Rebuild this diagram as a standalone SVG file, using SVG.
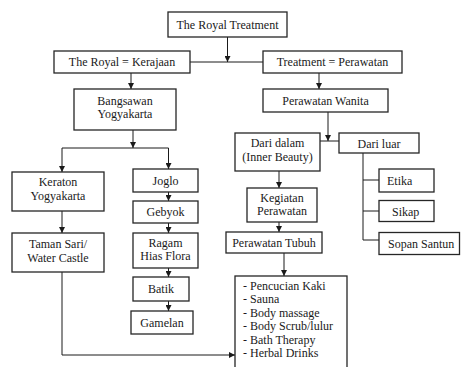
<svg xmlns="http://www.w3.org/2000/svg" width="461" height="367" viewBox="0 0 461 367">
<style>
.b{fill:#fff;stroke:#262626;stroke-width:1.3}
.t{font-family:"Liberation Serif","Times New Roman",serif;font-size:12px;fill:#1a1a1a;text-anchor:middle}
.l{font-family:"Liberation Serif","Times New Roman",serif;font-size:12px;fill:#1a1a1a}
.c{fill:none;stroke:#1a1a1a;stroke-width:1}
</style>
<defs>
<marker id="a" markerUnits="userSpaceOnUse" markerWidth="6" markerHeight="6" refX="6" refY="3" orient="auto">
<path d="M0,0 L6,3 L0,6 z" fill="#1a1a1a"/>
</marker>
</defs>
<rect width="461" height="367" fill="#fff"/>
<g id="connectors">
<path class="c" d="M227.5,37 V62" marker-end="url(#a)"/>
<path class="c" d="M190,62 H263"/>
<path class="c" d="M131,73 V89" marker-end="url(#a)"/>
<path class="c" d="M319,73 V89" marker-end="url(#a)"/>
<path class="c" d="M133,130 V148" marker-end="url(#a)"/>
<path class="c" d="M62,148 H168.5"/>
<path class="c" d="M62,148 V172" marker-end="url(#a)"/>
<path class="c" d="M168.5,148 V169" marker-end="url(#a)"/>
<path class="c" d="M62,211 V233" marker-end="url(#a)"/>
<path class="c" d="M168.5,192 V201" marker-end="url(#a)"/>
<path class="c" d="M168.5,223 V233" marker-end="url(#a)"/>
<path class="c" d="M168.5,268 V277" marker-end="url(#a)"/>
<path class="c" d="M168.5,301 V311" marker-end="url(#a)"/>
<path class="c" d="M62,272 V355 H235" marker-end="url(#a)"/>
<path class="c" d="M328,112 V141" marker-end="url(#a)"/>
<path class="c" d="M320,141 H339"/>
<path class="c" d="M363,153 V240 H379"/>
<path class="c" d="M363,180 H379"/>
<path class="c" d="M363,211 H379"/>
<path class="c" d="M279,171 V188" marker-end="url(#a)"/>
<path class="c" d="M279,222 V232" marker-end="url(#a)"/>
<path class="c" d="M284,253 V276" marker-end="url(#a)"/>
</g>
<g id="royal-treatment"><rect class="b" x="168" y="12" width="119" height="25"/><text class="t" x="227.5" y="28.5">The Royal Treatment</text></g>
<g id="the-royal"><rect class="b" x="54" y="51" width="136" height="22"/><text class="t" x="122" y="66">The Royal = Kerajaan</text></g>
<g id="treatment"><rect class="b" x="263" y="51" width="139" height="22"/><text class="t" x="332.5" y="66">Treatment = Perawatan</text></g>
<g id="bangsawan"><rect class="b" x="74" y="89" width="102" height="41"/><text class="t" x="125" y="104.5">Bangsawan</text><text class="t" x="125" y="118">Yogyakarta</text></g>
<g id="perawatan-wanita"><rect class="b" x="263" y="89" width="125" height="23"/><text class="t" x="325.5" y="104.5">Perawatan Wanita</text></g>
<g id="keraton"><rect class="b" x="12" y="172" width="92" height="39"/><text class="t" x="58" y="186">Keraton</text><text class="t" x="58" y="199.5">Yogyakarta</text></g>
<g id="taman-sari"><rect class="b" x="12" y="233" width="92" height="39"/><text class="t" x="58" y="248">Taman Sari/</text><text class="t" x="58" y="261.5">Water Castle</text></g>
<g id="joglo"><rect class="b" x="133" y="169" width="65" height="23"/><text class="t" x="165.5" y="184.5">Joglo</text></g>
<g id="gebyok"><rect class="b" x="133" y="201" width="65" height="22"/><text class="t" x="165.5" y="216">Gebyok</text></g>
<g id="ragam"><rect class="b" x="133" y="233" width="65" height="35"/><text class="t" x="165.5" y="246.5">Ragam</text><text class="t" x="165.5" y="260">Hias Flora</text></g>
<g id="batik"><rect class="b" x="133" y="277" width="56" height="24"/><text class="t" x="161" y="293">Batik</text></g>
<g id="gamelan"><rect class="b" x="131" y="311" width="62" height="23"/><text class="t" x="162" y="327">Gamelan</text></g>
<g id="dari-dalam"><rect class="b" x="235" y="133" width="85" height="38"/><text class="t" x="277.5" y="147">Dari dalam</text><text class="t" x="277.5" y="161">(Inner Beauty)</text></g>
<g id="dari-luar"><rect class="b" x="339" y="133" width="80" height="20"/><text class="t" x="379" y="147.5">Dari luar</text></g>
<g id="etika"><rect class="b" x="379" y="169" width="55" height="23"/><text class="l" x="387" y="184.5">Etika</text></g>
<g id="sikap"><rect class="b" x="379" y="200.5" width="55" height="21"/><text class="l" x="392" y="215.5">Sikap</text></g>
<g id="sopan-santun"><rect class="b" x="379" y="232.5" width="80.5" height="22"/><text class="l" x="388" y="248">Sopan Santun</text></g>
<g id="kegiatan"><rect class="b" x="247" y="188" width="70" height="34"/><text class="t" x="282" y="201.5">Kegiatan</text><text class="t" x="282" y="215">Perawatan</text></g>
<g id="perawatan-tubuh"><rect class="b" x="226" y="232" width="96" height="21"/><text class="t" x="274" y="247">Perawatan Tubuh</text></g>
<g id="list"><rect class="b" x="235" y="276" width="112" height="100"/>
<text class="l" x="243" y="289.5">- Pencucian Kaki</text>
<text class="l" x="243" y="303">- Sauna</text>
<text class="l" x="243" y="316.5">- Body massage</text>
<text class="l" x="243" y="330">- Body Scrub/lulur</text>
<text class="l" x="243" y="343.5">- Bath Therapy</text>
<text class="l" x="243" y="357">- Herbal Drinks</text>
</g>
</svg>
